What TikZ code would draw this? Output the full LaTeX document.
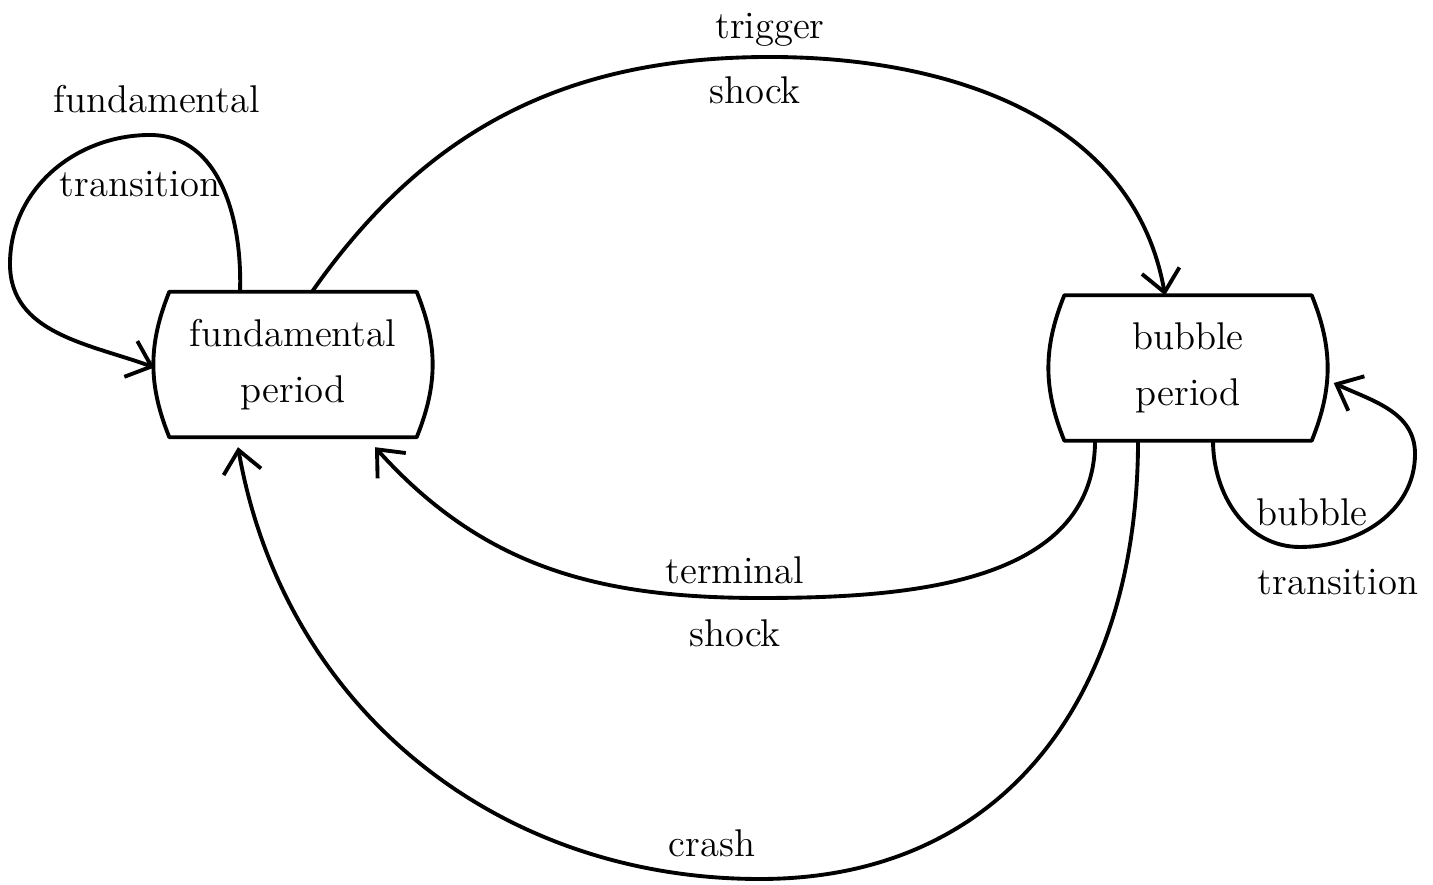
\documentclass[tikz,border=0pt]{standalone}
\usepackage{tikz}
\usetikzlibrary{arrows.meta, positioning, calc}

\begin{document}
\begin{tikzpicture}[
    period/.style={minimum width=2.46cm, minimum height=1.44cm, inner sep=0pt, align=center, font=\fontsize{11}{16}\selectfont},
    outline/.style={line width=1.1pt, line join=round},
    lbl/.style={font=\fontsize{11}{14}\selectfont, inner sep=1pt},
    arrow/.style={-{Straight Barb[length=2.2mm, width=3.8mm, line width=1.1pt]}, line width=1.1pt},
]
    \useasboundingbox (0,0) rectangle (14.33,8.84);

    \node[period] (fund) at (2.93,5.195) {fundamental\\period};
    \node[period] (bub) at (11.88,5.16) {bubble\\period};

    \foreach \n in {fund,bub}
        \draw[outline] (\n.north west) -- (\n.north east) to[bend left=22] (\n.south east)
            -- (\n.south west) to[bend left=22] (\n.north west) -- cycle;

    \draw[arrow] ([xshift=-0.53cm]fund.north) to[out=88,in=0] (1.5,7.49)
        to[out=180,in=90] (0.1,6.2) to[out=270,in=160] ([xshift=-0.15cm,yshift=-0.03cm]fund.west);
    \draw[arrow] ([xshift=0.19cm]fund.north) to[out=55,in=180] (7.7,8.27)
        to[out=0,in=100] ([xshift=-0.23cm]bub.north);
    \draw[arrow] ([xshift=-0.93cm]bub.south) to[out=-90,in=0] (7.6,2.86)
        to[out=180,in=-48] ([xshift=0.82cm,yshift=-0.1cm]fund.south);
    \draw[arrow] ([xshift=-0.5cm]bub.south) to[out=-90,in=0,looseness=1.1] (7.6,0.05)
        to[out=180,in=-80] ([xshift=-0.55cm,yshift=-0.1cm]fund.south);
    \draw[arrow] ([xshift=0.25cm]bub.south) to[out=-90,in=180] (13.0,3.37)
        to[out=0,in=-90] (14.15,4.3) to[out=90,in=-25] ([xshift=0.22cm,yshift=-0.15cm]bub.east);

    \node[lbl] (ftA) at (1.57,7.85) {fundamental};
    \node[lbl] (ftB) at (1.4,7.0) {transition};
    \node[lbl] (tsA) at (7.7,8.54) {trigger};
    \node[lbl] (tsB) at (7.55,7.94) {shock};
    \node[lbl] (tmA) at (7.35,3.14) {terminal};
    \node[lbl] (tmB) at (7.35,2.51) {shock};
    \node[lbl] (cr) at (7.12,0.41) {crash};
    \node[lbl] (btA) at (13.12,3.72) {bubble};
    \node[lbl] (btB) at (13.38,3.02) {transition};
\end{tikzpicture}
\end{document}
